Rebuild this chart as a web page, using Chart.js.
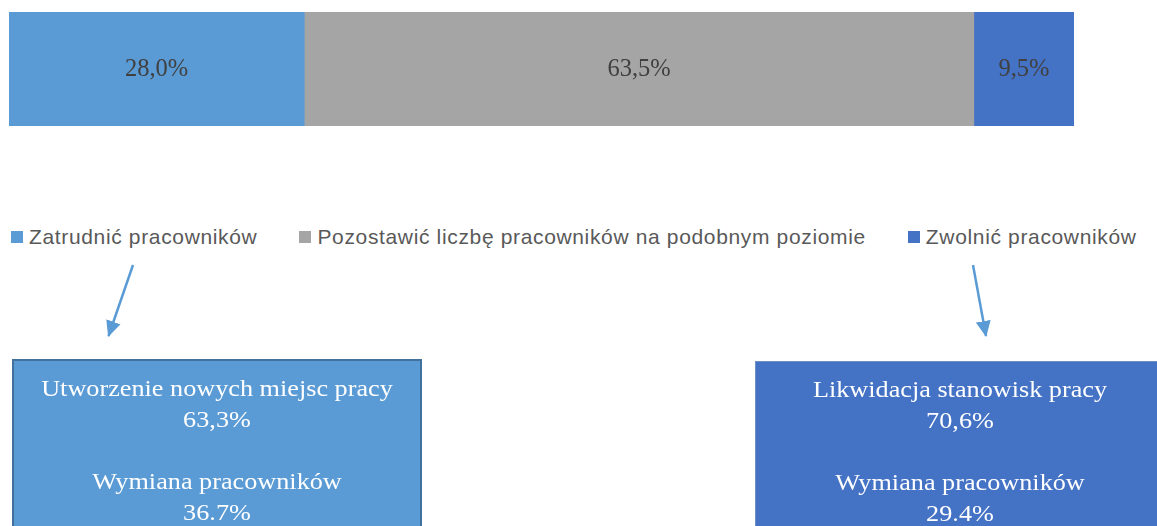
<!DOCTYPE html>
<html lang="pl">
<head>
<meta charset="utf-8">
<script src="https://cdn.jsdelivr.net/npm/chart.js@4/dist/chart.umd.min.js"></script>
<style>
  body { margin: 0; background: #fff; width: 1157px; height: 526px; overflow: hidden; position: relative; }
  #chartWrap { position: absolute; left: 0; top: 0; width: 1157px; height: 140px; }
  #legend { position: absolute; left: 11px; top: 225px; display: flex; gap: 42px;
            font-family: "Liberation Sans", Arial, sans-serif; font-size: 21px; letter-spacing: 0.65px; color: #595959; }
  #legend .item { display: flex; align-items: center; white-space: nowrap; }
  #legend .sw { width: 12px; height: 12px; margin-right: 6px; }
  .box { position: absolute; top: 359px; width: 405px; height: 180px; box-sizing: border-box;
         font-family: "Liberation Serif", "Times New Roman", serif; font-size: 23px; line-height: 31px;
         color: #fff; text-align: center; padding-top: 12px; }
  .box .txt { transform: scaleX(1.14); }
  #boxLeft { left: 12px; width: 410px; background: #5b9bd5; border: 2px solid #41719c; }
  #boxRight { left: 755px; width: 410px; top: 361px; background: #4472c4; border: 1px solid #6f8fc4; }
  svg { position: absolute; left: 0; top: 0; }
</style>
</head>
<body>
<div id="chartWrap"><canvas id="bar"></canvas></div>
<div id="legend"></div>
<svg width="1157" height="526">
  <defs>
    <marker id="head" markerWidth="16" markerHeight="16" refX="15" refY="8" orient="auto" markerUnits="userSpaceOnUse">
      <path d="M0,0.5 L16,8 L0,15.5 z" fill="#5b9bd5"></path>
    </marker>
  </defs>
  <line x1="133" y1="265" x2="108.5" y2="336" stroke="#5b9bd5" stroke-width="2.5" marker-end="url(#head)"></line>
  <line x1="973" y1="265" x2="986" y2="336" stroke="#5b9bd5" stroke-width="2.5" marker-end="url(#head)"></line>
</svg>
<div class="box" id="boxLeft"><div class="txt"></div></div>
<div class="box" id="boxRight"><div class="txt"></div></div>

<script>
// categories and shares of the stacked bar
const categories = ['Zatrudnić pracowników', 'Pozostawić liczbę pracowników na podobnym poziomie', 'Zwolnić pracowników']
const shares = [28.0, 63.5, 9.5]
const barColors = ['#5b9bd5', '#a5a5a5', '#4472c4']

// breakdown boxes under the bar
const hireReasons = ['Utworzenie nowych miejsc pracy', 'Wymiana pracowników']
const hireShares = [63.3, 36.7]
const fireReasons = ['Likwidacja stanowisk pracy', 'Wymiana pracowników']
const fireShares = [70.6, 29.4]
const decimalSeps = [',', '.']   // the source mixes separators

const fmt = (v, sep) => v.toFixed(1).replace('.', sep) + '%'

// draws the value in the middle of every bar segment
const centerLabels = {
    id: 'centerLabels',
    afterDatasetsDraw(chart) {
        const ctx = chart.ctx
        ctx.save()
        ctx.font = '24.5px "Liberation Serif", "Times New Roman", serif'
        ctx.fillStyle = '#404040'
        ctx.textAlign = 'center'
        ctx.textBaseline = 'middle'
        chart.data.datasets.forEach((ds, i) => {
            chart.getDatasetMeta(i).data.forEach((bar, j) => {
                const p = bar.getProps(['x', 'base', 'y'], true)
                ctx.fillText(fmt(ds.data[j], ','), (p.x + p.base) / 2, p.y + 1)
            })
        })
        ctx.restore()
    }
}

const chart = new Chart(document.getElementById('bar'), {
    type: 'bar',
    data: {
        labels: [''],
        datasets: categories.map((name, i) => ({
            label: name,
            data: [shares[i]],
            backgroundColor: barColors[i],
            barPercentage: 1,
            categoryPercentage: 1
        }))
    },
    options: {
        indexAxis: 'y',
        responsive: true,
        maintainAspectRatio: false,
        animation: false,
        layout: { padding: { left: 9, right: 83, top: 12, bottom: 14 } },
        scales: {
            x: { stacked: true, min: 0, max: 101, display: false },
            y: { stacked: true, display: false }
        },
        plugins: { legend: { display: false }, tooltip: { enabled: false } }
    },
    plugins: [centerLabels]
})

// html legend built from the datasets
const legend = document.getElementById('legend')
chart.data.datasets.forEach(ds => {
    const item = document.createElement('div')
    item.className = 'item'
    item.innerHTML = '<span class="sw" style="background:' + ds.backgroundColor + '"></span>' + ds.label
    legend.appendChild(item)
})

function fillBox(id, reasons, values) {
    const lines = []
    reasons.forEach((r, i) => {
        if (i > 0) lines.push('&nbsp;')
        lines.push(r)
        lines.push(fmt(values[i], decimalSeps[i]))
    })
    document.querySelector('#' + id + ' .txt').innerHTML = lines.join('<br>')
}
fillBox('boxLeft', hireReasons, hireShares)
fillBox('boxRight', fireReasons, fireShares)
</script>
</body>
</html>
